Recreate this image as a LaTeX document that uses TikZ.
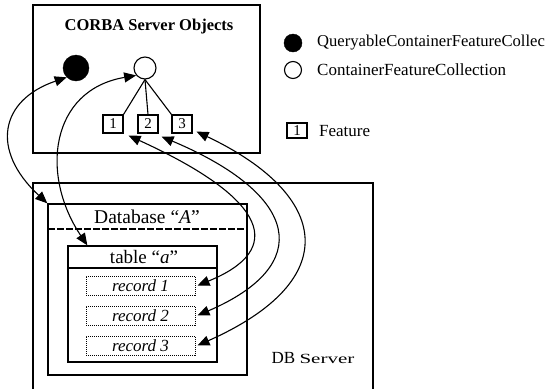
\documentclass[tikz,border=0pt]{standalone}
\usepackage{fontspec}
\setmainfont{Liberation Serif}
\usetikzlibrary{arrows.meta}
\newcommand{\fsz}[1]{\fontsize{#1}{#1}\selectfont}
\tikzset{
  frame/.style={draw, line width=1.3pt, inner sep=0pt},
  featbox/.style={draw, line width=1.1pt, minimum width=20pt, minimum height=18pt, inner sep=0pt, font=\fsz{15}},
  recbox/.style={draw, densely dotted, line width=1pt, minimum width=109pt, minimum height=19pt, inner sep=0pt, font=\fsz{17}\itshape},
  lbl/.style={inner sep=0pt, font=\fsz{17}},
  arr/.style={line width=1.1pt, {Triangle[length=12pt,width=10pt]}-{Triangle[length=12pt,width=10pt]}}
}
\begin{document}
\begin{tikzpicture}[x=1pt,y=-1pt]
\useasboundingbox (0,0) rectangle (550,389);
\clip (0,0) rectangle (550,389);
% CORBA server
\node[frame, minimum width=227pt, minimum height=148pt] (corba) at (146.5,79) {};
\node[inner sep=0pt, font=\fsz{16.5}\bfseries] (title) at (149,27) {CORBA Server Objects};
\node[circle, fill=black, draw, minimum size=26pt, inner sep=0pt] (fc) at (76,68) {};
\node[circle, draw, line width=1.1pt, minimum size=22pt, inner sep=0pt] (oc) at (145,68) {};
\node[featbox] (b1) at (113,124) {1};
\node[featbox] (b2) at (148,124) {2};
\node[featbox] (b3) at (182,124) {3};
\draw[line width=1.1pt] (oc.south) -- (b1.north east);
\draw[line width=1.1pt] (oc.south) -- (b2.north);
\draw[line width=1.1pt] (oc.south) -- (b3.north west);
% legend
\node[circle, fill=black, draw, minimum size=18pt, inner sep=0pt] (lfc) at (293,43) {};
\node[lbl, anchor=west, font=\fsz{16.6}] (lfct) at (317,43) {QueryableContainerFeatureCollec};
\node[circle, draw, line width=1.1pt, minimum size=17pt, inner sep=0pt] (loc) at (293,70) {};
\node[lbl, anchor=west] (loct) at (317,70) {ContainerFeatureCollection};
\node[featbox, minimum height=15pt] (lfb) at (297,130.5) {1};
\node[lbl, anchor=west] (lfbt) at (319,131) {Feature};
% DB server
\node[frame, minimum width=340pt, minimum height=212pt] (dbs) at (203,289) {};
\node[inner sep=0pt, font=\fsz{17}] (dbst) at (313,358) {DB {\fsz{14}\scalebox{1.5}[1]{Server}}};
\node[frame, minimum width=199pt, minimum height=171pt] (dbA) at (147.5,289.5) {};
\draw[line width=1.1pt, dash pattern=on 7pt off 2pt] (48,229) -- (247,229);
\node[inner sep=0pt, font=\fsz{19.5}] (dbAt) at (147,217) {Database \textquotedblleft\textit{A}\textquotedblright};
\node[frame, minimum width=149pt, minimum height=116pt] (tab) at (142.5,304) {};
\draw[line width=1.2pt] (68,268) -- (217,268);
\node[inner sep=0pt, font=\fsz{19}] (tabt) at (144,257) {table \textquotedblleft\textit{a}\textquotedblright};
\node[recbox] (r1) at (140.5,285.5) {record 1};
\node[recbox] (r2) at (140.5,315.5) {record 2};
\node[recbox] (r3) at (140.5,345.5) {record 3};
% connectors
\draw[arr] (fc.225) .. controls (0,100) and (-10,150) .. (dbA.north west);
\draw[arr] (oc.220) .. controls (50,90) and (40,175) .. ([xshift=20pt]tab.north west);
\draw[arr] ([xshift=5pt,yshift=-2pt]b1.south east) .. controls (270,200) and (285,250) .. ([xshift=2pt]r1.east);
\draw[arr] ([xshift=3pt,yshift=-3pt]b2.south east) .. controls (300,195) and (315,265) .. ([xshift=2pt]r2.east);
\draw[arr] ([xshift=4pt,yshift=2pt]b3.south east) .. controls (330,195) and (345,280) .. ([xshift=2pt]r3.east);
\end{tikzpicture}
\end{document}
